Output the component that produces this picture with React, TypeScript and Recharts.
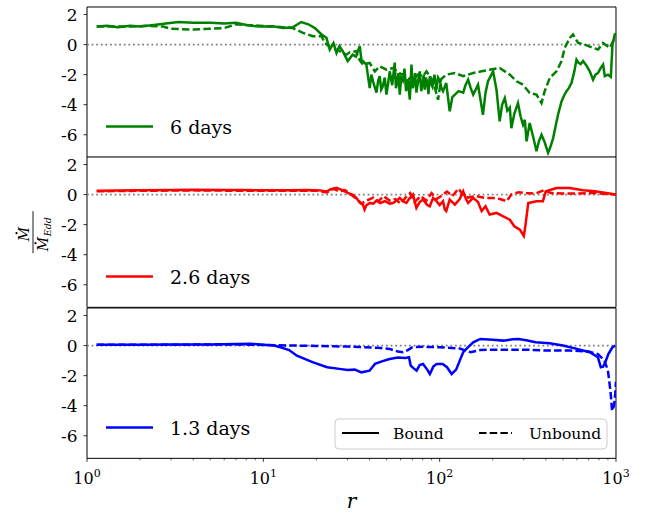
import {
  Label,
  Legend,
  Line,
  LineChart,
  ReferenceArea,
  ReferenceLine,
  XAxis,
  YAxis,
} from "recharts";

type Pt = [number, number];

// [r, Mdot / Mdot_Edd] for each snapshot, bound and unbound material
const bound6: Pt[] = [
  [1.135, 1.2], [1.3, 1.25], [1.5, 1.15], [1.75, 1.25], [2.0, 1.2], [2.4, 1.3],
  [2.8, 1.4], [3.3, 1.5], [4.0, 1.45], [5.0, 1.45], [6.0, 1.4], [7.0, 1.45],
  [8.0, 1.3], [9.5, 1.2], [11.5, 1.2], [13.0, 1.1], [14.7, 1.15], [16.4, 1.5],
  [18.0, 1.35], [19.6, 1.1], [21.4, 0.67], [22.8, 0.45], [23.8, -0.33], [25.0, 0.1],
  [26.0, -0.56], [27.0, -0.1], [28.2, -0.44], [30.1, -1.1], [32.1, -0.67], [33.5, -0.8],
  [35.2, -0.1], [36.0, -1.0], [38.4, -1.33], [40.1, -2.9], [41.0, -2.0], [42.0, -2.5],
  [43.8, -3.2], [44.8, -2.4], [45.7, -2.1], [46.6, -3.0], [47.5, -2.8], [48.8, -2.2],
  [49.9, -3.33], [51.0, -2.6], [52.1, -1.78], [53.8, -2.7], [55.6, -1.2], [56.5, -2.9],
  [57.5, -2.5], [58.4, -1.9], [59.4, -3.33], [60.5, -2.2], [61.8, -2.4], [63.2, -1.6],
  [64.5, -3.1], [66.0, -2.3], [67.7, -3.67], [69.2, -1.33], [70.3, -2.9], [71.5, -2.6],
  [72.6, -1.9], [73.8, -3.2], [75.5, -2.4], [77.1, -1.78], [78.6, -3.1], [80, -2.6],
  [81.2, -2.0], [82.3, -3.0], [83.6, -2.2], [85, -2.5], [86.4, -3.3], [87.9, -2.1],
  [89.5, -2.6], [91, -2.8], [93.5, -2.0], [95.9, -3.0], [98, -2.2], [100.2, -2.4],
  [102.4, -2.9], [104.5, -3.1], [109, -2.56], [114, -4.44], [118, -3.5], [122, -3.33],
  [128, -3.1], [136, -3.2], [140, -2.7], [145, -2.33], [150, -2.9], [155, -3.33],
  [160, -3.0], [165, -2.67], [176, -4.67], [182, -3.2], [188, -2.44], [201, -1.78],
  [210, -3.0], [219, -5.1], [226, -4.0], [234, -3.56], [242, -4.4], [250, -4.2],
  [255, -5.56], [265, -4.6], [278, -3.89], [288, -4.8], [297, -5.33], [304, -5.0],
  [311, -6.44], [324, -5.22], [340, -6.2], [354, -7.1], [366, -6.4], [378, -6.0],
  [394, -6.5], [412, -7.2], [425, -6.8], [440, -6.22], [455, -5.4], [469, -4.67],
  [491, -3.78], [507, -3.4], [524, -3.1], [540, -2.9], [559, -2.56], [580, -1.8],
  [597, -1.0], [612, -1.2], [630, -1.3], [651, -1.1], [680, -1.4], [710, -1.78],
  [741, -2.33], [765, -2.0], [791, -1.89], [815, -1.6], [845, -1.33], [864, -2.1],
  [900, -2.0], [935, -2.15], [955, 0], [984, 0.67], [1000, 0.75],
];

const unbound6: Pt[] = [
  [1.135, 1.2], [1.4, 1.2], [1.75, 1.2], [2.2, 1.25], [2.7, 1.2], [3.0, 1.05],
  [4.0, 1.0], [5.0, 1.05], [6.0, 1.1], [7.0, 1.35], [8.0, 1.3], [9.5, 1.25],
  [11.5, 1.2], [14.7, 1.1], [16.8, 0.78], [19.1, 0.56], [21.4, 0.55], [22.3, 0.11],
  [24.3, -0.22], [27.1, -0.44], [29.6, -0.67], [31, -0.5], [33.7, -0.44], [34.5, -0.89],
  [36.7, -1.33], [40.1, -1.22], [42.9, -1.78], [45.7, -1.44], [49.9, -1.67], [54.4, -1.56],
  [59, -1.9], [64.8, -2.1], [70.6, -2.44], [75, -2.0], [80.5, -2.1], [84.2, -1.78],
  [91.8, -2.44], [97.9, -3.67], [102, -2.3], [109, -2.0], [122, -1.89], [136, -2.1],
  [155, -1.89], [173, -1.78], [192, -1.67], [219, -1.56], [250, -2.0], [273, -2.44],
  [297, -2.67], [324, -3.22], [354, -3.33], [378, -3.89], [394, -3.1], [421, -2.22],
  [460, -1.78], [491, -1.1], [512, -0.22], [547, 0.44], [571, 0.67], [610, 0.11],
  [665, 0.0], [741, -0.22], [791, -0.33], [845, 0.11], [922, -0.22], [984, 0.44],
];

const bound26: Pt[] = [
  [1.135, 0.25], [1.5, 0.27], [2, 0.28], [3, 0.3], [4, 0.32], [6, 0.3], [8, 0.3],
  [10, 0.28], [14, 0.28], [18, 0.3], [21, 0.28], [22.8, 0.2], [24, 0.35], [26, 0.45],
  [28, 0.3], [30, 0.11], [32, 0.0], [33.7, -0.22], [35, -0.5], [36.7, -0.67], [37.5, -1.0],
  [38.5, -0.7], [40.1, -0.56], [42, -0.6], [43.8, -0.4], [46, -0.56], [49, -0.44],
  [52, -0.6], [54.4, -0.56], [57, -0.4], [59.4, -0.22], [62, -0.45], [64.8, -0.56],
  [67, -0.3], [70.6, 0.0], [73.8, -0.89], [77, -0.5], [80.5, -0.33], [85, -0.7],
  [87.9, -0.78], [91.8, -0.22], [95.9, -0.44], [100, -0.7], [104.5, -0.44], [107, -1.0],
  [109, -1.1], [114, -0.33], [118, -0.5], [122, -0.67], [130, -0.3], [136, 0.22],
  [141, -0.3], [145, -0.56], [155, -0.22], [165, -0.5], [173, -1.1], [182, -0.78],
  [192, -1.33], [210, -1.22], [228, -1.44], [250, -1.67], [265, -2.11], [285, -2.33],
  [300, -2.75], [306, -2.11], [318, -0.56], [354, -0.44], [385, -0.44], [400, 0.22],
  [460, 0.44], [547, 0.44], [650, 0.29], [760, 0.22], [1000, 0.0],
];

const unbound26: Pt[] = [
  [1.135, 0.22], [2, 0.25], [4, 0.28], [8, 0.25], [14, 0.25], [20, 0.25], [23, 0.15],
  [25, 0.4], [27, 0.2], [29, 0.3], [31, 0.05], [34, -0.3], [36, -0.6], [38.5, -0.4],
  [42, -0.2], [45, -0.44], [48, -0.1], [52, -0.4], [56, -0.3], [60, -0.6], [64, -0.2],
  [68, 0.1], [72, -0.5], [78, -0.1], [84, -0.4], [90, 0.1], [96, -0.3], [102, -0.1],
  [110, 0.2], [118, -0.1], [128, 0.4], [135, 0.0], [145, -0.2], [160, -0.1], [180, -0.22],
  [200, -0.22], [220, -0.3], [240, -0.44], [255, 0.0], [280, 0.15], [310, 0.1],
  [350, 0.07], [390, 0.29], [430, 0.1], [500, 0.07], [600, 0.07], [740, 0.11], [1000, 0.0],
];

const bound13: Pt[] = [
  [1.135, 0.05], [2, 0.06], [3, 0.07], [5, 0.08], [7, 0.1], [8.5, 0.12], [10, 0.05],
  [11.5, 0.0], [12.5, -0.11], [14, -0.3], [15.5, -0.67], [19, -1.1], [23, -1.44],
  [27, -1.55], [30, -1.62], [33, -1.6], [36, -1.78], [38, -1.72], [40, -1.67], [43, -1.22],
  [47, -1.05], [52, -0.89], [58, -0.8], [64, -0.82], [67, -0.78], [68.5, -1.33], [71, -1.5],
  [74, -1.67], [77, -1.3], [80.5, -1.22], [85, -1.6], [88, -1.89], [92, -1.4], [96, -1.22],
  [104, -1.22], [110, -1.44], [117, -1.89], [124, -1.6], [130, -1.0], [136, -0.44],
  [145, -0.11], [155, 0.22], [170, 0.44], [200, 0.38], [230, 0.33], [260, 0.42],
  [280, 0.44], [310, 0.35], [350, 0.22], [420, 0.15], [500, 0.0], [600, -0.22],
  [710, -0.44], [790, -0.78], [820, -1.44], [845, -1.4], [870, -1.11], [905, -0.56],
  [955, -0.11], [990, 0.0],
];

const unbound13: Pt[] = [
  [1.135, 0.05], [3, 0.06], [6, 0.07], [9, 0.06], [12, 0.02], [15, 0.0], [20, -0.02],
  [25, -0.05], [30, -0.06], [35, -0.1], [45, -0.15], [52, -0.22], [58, -0.4], [62, -0.44],
  [66, -0.3], [70, -0.11], [80, -0.08], [100, -0.11], [130, -0.2], [150, -0.44],
  [170, -0.3], [200, -0.27], [300, -0.27], [400, -0.33], [550, -0.33], [700, -0.4],
  [790, -0.56], [860, -1.0], [900, -1.67], [930, -3.0], [950, -4.33], [975, -4.0],
  [990, -3.2], [1000, -2.4],
];

const panelLabels = ["6 days", "2.6 days", "1.3 days"];
const panelColors = ["#008000", "#ff0000", "#0000ff"];
const panelBound = [bound6, bound26, bound13];
const panelUnbound = [unbound6, unbound26, unbound13];

const yTicks = [-6, -4, -2, 0, 2];
const xMajor = [1, 10, 100, 1000];
const xMinor = [
  2, 3, 4, 5, 6, 7, 8, 9, 20, 30, 40, 50, 60, 70, 80, 90, 200, 300, 400, 500, 600, 700, 800, 900,
];

const Y_MIN = -7.5;
const Y_MAX = 2.5;
const W = 654;
const PLOT_TOP = 7;
const PLOT_H = 150.33;
const PAD = 7;
const X_AXIS_H = 57;
const FONT = "'DejaVu Serif', serif";
const serif = { fontFamily: FONT };

const toRows = (pts: Pt[]) => pts.map(([r, m]) => ({ r, m }));

function LogTick(props: any) {
  const { x, y, payload } = props;
  const v = payload.value;
  const major = xMajor.includes(v);
  return (
    <g>
      <line x1={x} x2={x} y1={y} y2={y + (major ? 3.5 : 2)} stroke="#000" strokeWidth={major ? 0.8 : 0.6} />
      {major && (
        <text x={x} y={y + 26} textAnchor="middle" style={serif} fontSize={16} fill="#000">
          10
          <tspan dy={-7} fontSize={11}>
            {Math.round(Math.log10(v))}
          </tspan>
        </text>
      )}
    </g>
  );
}

function ValueTick(props: any) {
  const { x, y, payload } = props;
  return (
    <text x={x} y={y} dy="0.36em" textAnchor="end" style={serif} fontSize={17} fill="#000">
      {payload.value}
    </text>
  );
}

function XLabel(props: any) {
  const vb = props.viewBox ?? { x: 87, y: 458, width: 529, height: X_AXIS_H };
  return (
    <text x={vb.x + vb.width / 2} y={vb.y + 50} textAnchor="middle" style={serif} fontStyle="italic" fontSize={20} fill="#000">
      r
    </text>
  );
}

// Mdot / Mdot_Edd, rotated along the left edge
function FracLabel(props: any) {
  const vb = props.viewBox ?? { x: 0, y: PAD, width: 87, height: PLOT_H };
  const cx = vb.x + 33;
  const cy = vb.y + vb.height / 2;
  return (
    <g transform={`translate(${cx},${cy}) rotate(-90)`} fill="#000" style={serif}>
      <text x={-2} y={-4} textAnchor="middle" fontStyle="italic" fontSize={14}>
        M
      </text>
      <circle cx={-1} cy={-16.5} r={1.1} />
      <line x1={-21} x2={21} y1={0} y2={0} stroke="#000" strokeWidth={0.9} />
      <text x={-19} y={15} fontStyle="italic" fontSize={14}>
        M
      </text>
      <circle cx={-11} cy={2.5} r={1.1} />
      <text x={-4} y={18.5} fontStyle="italic" fontSize={9.5}>
        Edd
      </text>
    </g>
  );
}

function PanelKey({ payload, plotTop, showKey }: { payload?: any[]; plotTop: number; showKey: boolean }) {
  const entry = payload?.[0];
  const ly = plotTop + 119.5;
  const ky = plotTop + 125;
  return (
    <svg width={W} height={260} style={{ position: "absolute", left: 0, top: 0, overflow: "visible" }}>
      {entry && (
        <g>
          <line x1={106} x2={153} y1={ly} y2={ly} stroke={entry.color} strokeWidth={2.5} />
          <text x={170} y={ly + 7} style={serif} fontSize={19} fill="#000">
            {entry.value}
          </text>
        </g>
      )}
      {showKey && (
        <g style={serif} fontSize={15.5} fill="#000">
          <rect x={335} y={ky - 14} width={272} height={30} rx={4} fill="#fff" fillOpacity={0.8} stroke="#cccccc" />
          <line x1={342} x2={379} y1={ky} y2={ky} stroke="#000" strokeWidth={2} />
          <text x={393} y={ky + 6}>Bound</text>
          <line x1={479} x2={512} y1={ky} y2={ky} stroke="#000" strokeWidth={2} strokeDasharray="7.5 3.2" />
          <text x={529} y={ky + 6}>Unbound</text>
        </g>
      )}
    </svg>
  );
}

function Panel({ idx }: { idx: number }) {
  const last = idx === 2;
  const top = PLOT_TOP + idx * PLOT_H - PAD;
  const height = PAD + PLOT_H + (last ? X_AXIS_H : 0);
  const color = panelColors[idx];
  return (
    <div style={{ position: "absolute", left: 0, top }}>
      <LineChart width={W} height={height} margin={{ top: PAD, right: 38, bottom: 0, left: 0 }}>
        <XAxis
          type="number"
          dataKey="r"
          scale="log"
          domain={[1, 1000]}
          allowDataOverflow
          hide={!last}
          height={X_AXIS_H}
          ticks={[...xMajor, ...xMinor]}
          interval={0}
          tickSize={0}
          tickMargin={0}
          axisLine={false}
          tickLine={false}
          tick={<LogTick />}
        >
          {last && <Label content={XLabel} />}
        </XAxis>
        <YAxis
          type="number"
          domain={[Y_MIN, Y_MAX]}
          allowDataOverflow
          ticks={yTicks}
          interval={0}
          width={87}
          axisLine={false}
          tickSize={3.5}
          tickMargin={6}
          tickLine={{ stroke: "#000", strokeWidth: 0.8 }}
          tick={<ValueTick />}
        >
          {idx === 1 && <Label content={FracLabel} />}
        </YAxis>
        <ReferenceLine y={0} stroke="#808080" strokeWidth={1.8} strokeDasharray="1.8 2.8" />
        <Line
          data={toRows(panelUnbound[idx])}
          dataKey="m"
          type="linear"
          stroke={color}
          strokeWidth={2.5}
          strokeDasharray="7.5 3.2"
          dot={false}
          legendType="none"
          isAnimationActive={false}
        />
        <Line
          data={toRows(panelBound[idx])}
          dataKey="m"
          name={panelLabels[idx]}
          type="linear"
          stroke={color}
          strokeWidth={2.5}
          dot={false}
          isAnimationActive={false}
        />
        <ReferenceArea x1={1} x2={1000} y1={Y_MIN} y2={Y_MAX} fill="none" stroke="#000" strokeWidth={1} />
        <Legend
          layout="vertical"
          align="center"
          verticalAlign="middle"
          wrapperStyle={{ left: 0, top: 0, width: W, height }}
          content={(props: any) => <PanelKey payload={props.payload} plotTop={PAD} showKey={last} />}
        />
      </LineChart>
    </div>
  );
}

export default function App() {
  return (
    <div style={{ position: "absolute", left: 0, top: 0, width: W, height: 515, background: "#fff", ...serif }}>
      {[0, 1, 2].map((i) => (
        <Panel key={i} idx={i} />
      ))}
    </div>
  );
}
